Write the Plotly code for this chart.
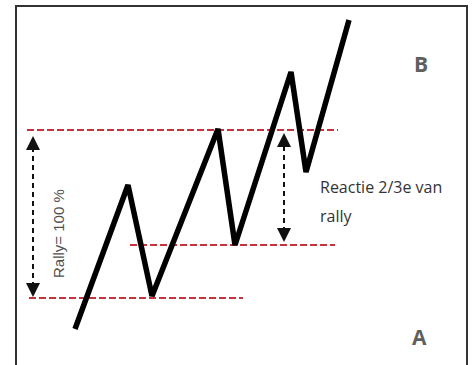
import plotly.graph_objects as go

# price path (x = time, y = price)
path_x = [75, 128, 152, 218, 235, 291, 306, 349]
path_y = [36, 180, 69, 236, 120, 293, 193, 345]

# red dashed support / resistance levels: (level, x start, x end)
level_y = [235, 120, 67]
level_x0 = [27, 130, 29]
level_x1 = [338, 335, 243]

# double arrows: (x, low, high)
arrow_x = [33, 284]
arrow_lo = [68, 123]
arrow_hi = [229, 232]

labels = ["Rally= 100 %", "Reactie 2/3e van", "rally", "B", "A"]

RED = "#c8323c"
INK = "#111111"

fig = go.Figure()

for y, x0, x1 in zip(level_y, level_x0, level_x1):
    fig.add_trace(go.Scatter(
        x=[x0, x1], y=[y, y], mode="lines",
        line={"color": RED, "width": 2, "dash": "7px,3px"},
        hoverinfo="skip",
    ))

for x, lo, hi in zip(arrow_x, arrow_lo, arrow_hi):
    fig.add_trace(go.Scatter(
        x=[x, x], y=[lo + 10, hi - 10], mode="lines",
        line={"color": INK, "width": 2, "dash": "5px,4px"},
        hoverinfo="skip",
    ))
    for tip, off in ((hi, 14), (lo, -14)):
        fig.add_annotation(
            x=x, y=tip, ax=0, ay=off, text="", showarrow=True,
            arrowhead=2, arrowsize=1.4, arrowwidth=2, arrowcolor=INK,
        )

fig.add_trace(go.Scatter(
    x=path_x, y=path_y, mode="lines",
    line={"color": "#000000", "width": 5.5},
    hoverinfo="skip",
))

# frame (no bottom edge)
fig.add_shape(
    type="path", path="M16,-10 L16,359 L467,359 L467,-10",
    line={"color": "#333333", "width": 2},
)

fig.add_annotation(
    x=58, y=131, text=labels[0], textangle=-90, showarrow=False,
    font={"family": "Liberation Sans, Arial", "size": 15, "color": "#505050"},
)
fig.add_annotation(
    x=318, y=178, text=labels[1], showarrow=False, xanchor="left",
    font={"family": "Open Sans", "size": 16, "color": "#333333"},
)
fig.add_annotation(
    x=318, y=149, text=labels[2], showarrow=False, xanchor="left",
    font={"family": "Open Sans", "size": 16, "color": "#333333"},
)
fig.add_annotation(
    x=420.5, y=301.5, text=f"<b>{labels[3]}</b>", showarrow=False,
    font={"family": "Open Sans", "size": 21, "color": "#5f5f5f"},
)
fig.add_annotation(
    x=419.5, y=28.5, text=f"<b>{labels[4]}</b>", showarrow=False,
    font={"family": "Open Sans", "size": 21, "color": "#5f5f5f"},
)

fig.update_layout(
    width=475,
    height=365,
    margin={"l": 0, "r": 0, "t": 0, "b": 0},
    showlegend=False,
    paper_bgcolor="#ffffff",
    plot_bgcolor="#ffffff",
    xaxis={"range": [0, 475], "visible": False, "fixedrange": True},
    yaxis={"range": [0, 365], "visible": False, "fixedrange": True},
)

fig.write_html(
    "out.html",
    config={"displayModeBar": False},
    post_script="document.body.style.margin = '0';",
)
